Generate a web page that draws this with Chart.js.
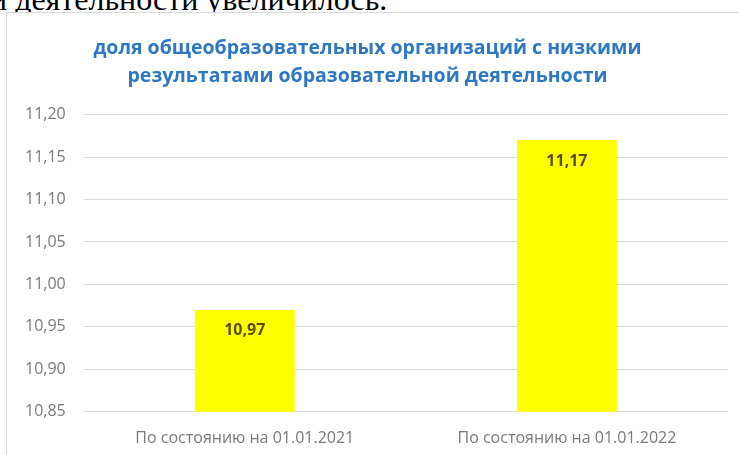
<!DOCTYPE html>
<html lang="ru">
<head>
<meta charset="utf-8">
<title>Доля общеобразовательных организаций</title>
<script src="https://cdn.jsdelivr.net/npm/chart.js@4.4.1/dist/chart.umd.min.js"></script>
<style>
    html, body { margin: 0; padding: 0; background: #fff; overflow: hidden; }
    body { width: 739px; height: 455px; position: relative; }
    .top-text {
        position: absolute; left: -10px; top: -17px;
        font-family: "Liberation Serif", "DejaVu Serif", serif;
        font-size: 32px; line-height: 32px; color: #000; white-space: nowrap;
    }
    .box {
        position: absolute; left: 6px; top: 12px;
        width: 740px; height: 450px;
        border: 1px solid #d9d9d9; background: #fff;
    }
    canvas { display: block; }
</style>
</head>
<body>
<div class="top-text">и деятельности увеличилось.</div>
<div class="box">
    <canvas id="shareChart" width="732" height="444"></canvas>
</div>
<script>
const categories = ['По состоянию на 01.01.2021', 'По состоянию на 01.01.2022'];
const shareValues = [10.97, 11.17];
const titleLines = [
    'доля общеобразовательных организаций с низкими',
    'результатами образовательной деятельности'
];
const yMin = 10.85;
const yMax = 11.20;
const yStep = 0.05;

const fmt = v => Number(v).toFixed(2).replace('.', ',');

// подписи значений внутри столбцов
const valueLabels = {
    id: 'valueLabels',
    afterDatasetsDraw(chart) {
        const ctx = chart.ctx;
        const meta = chart.getDatasetMeta(0);
        ctx.save();
        ctx.font = 'bold 16px "Open Sans"';
        ctx.fillStyle = '#5a4f06';
        ctx.textAlign = 'center';
        ctx.textBaseline = 'middle';
        meta.data.forEach((bar, i) => {
            ctx.fillText(fmt(shareValues[i]), bar.x, bar.y + 21);
        });
        ctx.restore();
    }
};

const ctx1 = document.getElementById('shareChart').getContext('2d');
const shareChart = new Chart(ctx1, {
    type: 'bar',
    data: {
        labels: categories,
        datasets: [{
            data: shareValues,
            backgroundColor: '#ffff00',
            borderWidth: 0,
            barPercentage: 0.31,
            categoryPercentage: 1.0
        }]
    },
    options: {
        responsive: false,
        animation: false,
        devicePixelRatio: 1,
        layout: {
            padding: { top: 0, left: 0, right: 11, bottom: 0 }
        },
        plugins: {
            legend: { display: false },
            tooltip: { enabled: false },
            title: {
                display: true,
                text: titleLines,
                color: '#2e78c2',
                font: { family: '"Open Sans"', size: 19.5, weight: 'bold', lineHeight: 1.4 },
                padding: { top: 22, bottom: 25 }
            }
        },
        scales: {
            x: {
                grid: { display: false },
                border: { display: false },
                ticks: {
                    color: '#7a7a7a',
                    font: { family: '"Open Sans"', size: 16 },
                    padding: 9,
                    maxRotation: 0
                }
            },
            y: {
                min: yMin,
                max: yMax,
                grid: { color: '#d9d9d9', drawTicks: false },
                border: { display: false },
                ticks: {
                    stepSize: yStep,
                    color: '#7a7a7a',
                    font: { family: '"Open Sans"', size: 16 },
                    padding: 18,
                    callback: v => fmt(v)
                }
            }
        }
    },
    plugins: [valueLabels]
});
</script>
</body>
</html>
